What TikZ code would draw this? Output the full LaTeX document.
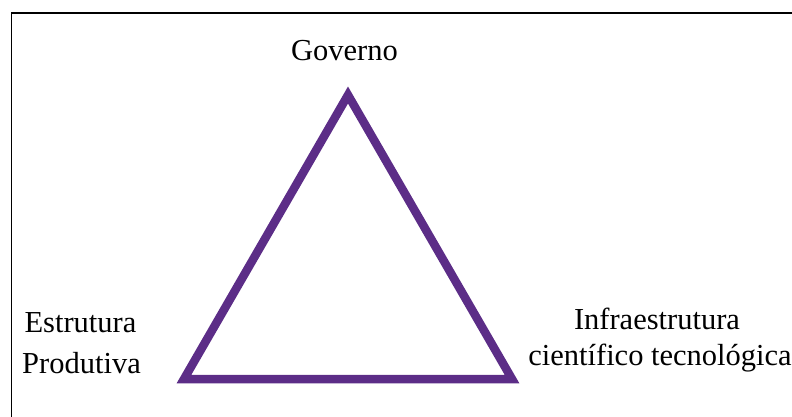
\documentclass[tikz,border=0pt]{standalone}
\usepackage{fontspec}
\setmainfont{Liberation Serif}
\definecolor{triPurple}{RGB}{92,45,135}
\begin{document}
\begin{tikzpicture}[x=1pt,y=-1pt,
  lbl/.style={anchor=base,inner sep=0pt,font=\fontsize{30.5}{36}\selectfont},
  tri/.style={draw=triPurple,line width=8.5pt,line join=miter}]
\useasboundingbox (0,0) rectangle (792,416);
\draw[line width=1.5pt] (11.7,420) -- (11.7,13) -- (800,13);
\coordinate (top) at (348,95);
\coordinate (bl) at (184,379);
\coordinate (br) at (512,379);
\draw[tri] (top) -- (bl) -- (br) -- cycle;
\node[lbl] (gov) at (344.5,60) {Governo};
\node[lbl] (est1) at (80.5,332) {Estrutura};
\node[lbl] (est2) at (81.5,373) {Produtiva};
\node[lbl] (inf1) at (657,329) {Infraestrutura};
\node[lbl] (inf2) at (660,365) {científico tecnológica};
\end{tikzpicture}
\end{document}
